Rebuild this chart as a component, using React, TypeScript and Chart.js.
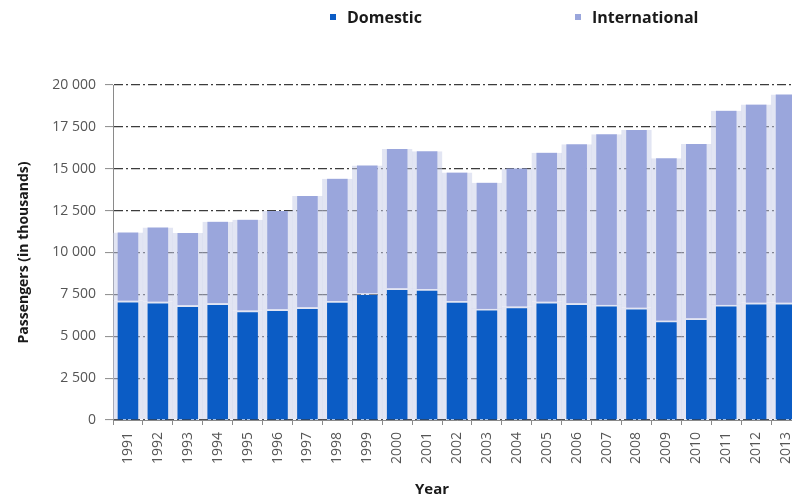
import React, { useEffect, useRef } from "react";
import { Chart, registerables } from "chart.js";

Chart.register(...registerables);

const years = [
  "1991", "1992", "1993", "1994", "1995", "1996", "1997", "1998", "1999", "2000", "2001", "2002",
  "2003", "2004", "2005", "2006", "2007", "2008", "2009", "2010", "2011", "2012", "2013",
];
const domestic = [
  7120, 7060, 6850, 6970, 6530, 6610, 6730, 7100, 7560, 7860, 7820, 7100,
  6630, 6770, 7060, 6970, 6870, 6700, 5930, 6070, 6870, 7000, 7000,
];
const international = [
  4080, 4440, 4310, 4870, 5430, 5870, 6640, 7310, 7640, 8320, 8220, 7670,
  7540, 8250, 8900, 9490, 10190, 10610, 9690, 10410, 11600, 11830, 12440,
];
const seriesNames = ["Domestic", "International"];
const yAxisTitle = "Passengers (in thousands)";
const xAxisTitle = "Year";

const DOM_COLOR = "#0b5cc5";
const INT_COLOR = "#9aa6dc";
const GAP_COLOR = "rgba(198,204,232,0.5)";
const FONT = "'Open Sans', 'Liberation Sans', sans-serif";

const fmt = (v: number) => String(v).replace(/\B(?=(\d{3})+(?!\d))/g, " ");

const overlayPlugin = {
  id: "overlay",
  afterDraw(chart: any) {
    const ctx = chart.ctx;
    ctx.save();
    ctx.font = `bold 16px ${FONT}`;
    ctx.textBaseline = "middle";
    const items = [
      { x: 330, tx: 347, color: DOM_COLOR, text: seriesNames[0] },
      { x: 575, tx: 592, color: INT_COLOR, text: seriesNames[1] },
    ];
    for (const it of items) {
      ctx.fillStyle = it.color;
      ctx.fillRect(it.x, 14, 6, 6);
      ctx.fillStyle = "#1a1a1a";
      ctx.textAlign = "left";
      ctx.fillText(it.text, it.tx, 18);
    }
    ctx.font = `bold 15px ${FONT}`;
    ctx.textAlign = "center";
    ctx.fillText(xAxisTitle, 432, 490);
    ctx.restore();
  },
};

export default function App() {
  const ref = useRef<HTMLCanvasElement>(null);
  useEffect(() => {
    if (!ref.current) return;
    const chart = new Chart(ref.current, {
      type: "bar",
      data: {
        labels: years,
        datasets: [
          {
            label: seriesNames[0],
            data: domestic,
            backgroundColor: DOM_COLOR,
            borderColor: GAP_COLOR,
            borderWidth: { left: 5, right: 5, top: 2, bottom: 0 },
            borderSkipped: false,
            barPercentage: 1,
            categoryPercentage: 1,
          },
          {
            label: seriesNames[1],
            data: international,
            backgroundColor: INT_COLOR,
            borderColor: GAP_COLOR,
            borderWidth: { left: 5, right: 5, top: 0, bottom: 0 },
            borderSkipped: false,
            barPercentage: 1,
            categoryPercentage: 1,
          },
        ],
      },
      options: {
        responsive: false,
        animation: false,
        devicePixelRatio: 1,
        layout: { padding: { top: 85, left: 0, right: 0, bottom: 0 } },
        plugins: {
          legend: { display: false },
          tooltip: { enabled: false },
        },
        scales: {
          x: {
            stacked: true,
            offset: true,
            border: { color: "#8a8a8a", width: 1 },
            grid: {
              offset: true,
              drawOnChartArea: false,
              drawTicks: true,
              tickLength: 5,
              tickColor: "#8a8a8a",
            },
            ticks: {
              minRotation: 90,
              maxRotation: 90,
              autoSkip: false,
              padding: 7,
              color: "#555",
              font: { family: FONT, size: 14 },
            },
            afterFit: (s: any) => {
              s.height = 81;
              s.paddingLeft = 0;
              s.paddingRight = 0;
            },
          },
          y: {
            stacked: true,
            min: 0,
            max: 20000,
            border: { color: "#8a8a8a", width: 1, dash: [9, 3, 2, 3] },
            grid: {
              color: "#3c3c3c",
              lineWidth: 1.2,
              tickLength: 8,
              tickColor: "#8a8a8a",
              tickBorderDash: [],
              tickWidth: 1,
            },
            ticks: {
              stepSize: 2500,
              padding: 9,
              color: "#555",
              font: { family: FONT, size: 14 },
              callback: (v: any) => fmt(Number(v)),
            },
            title: {
              display: true,
              text: yAxisTitle,
              color: "#1a1a1a",
              font: { family: FONT, size: 14, weight: "bold" },
              padding: { top: 16, bottom: 0 },
            },
            afterFit: (s: any) => {
              s.width = 113;
              s.paddingTop = 0;
              s.paddingBottom = 0;
            },
          },
        },
      },
      plugins: [overlayPlugin],
    });
    return () => chart.destroy();
  }, []);
  return (
    <div
      style={{
        position: "fixed",
        left: 0,
        top: 0,
        width: 792,
        height: 501,
        overflow: "hidden",
        background: "#fff",
      }}
    >
      <canvas ref={ref} width={801} height={501} style={{ display: "block" }} />
    </div>
  );
}
